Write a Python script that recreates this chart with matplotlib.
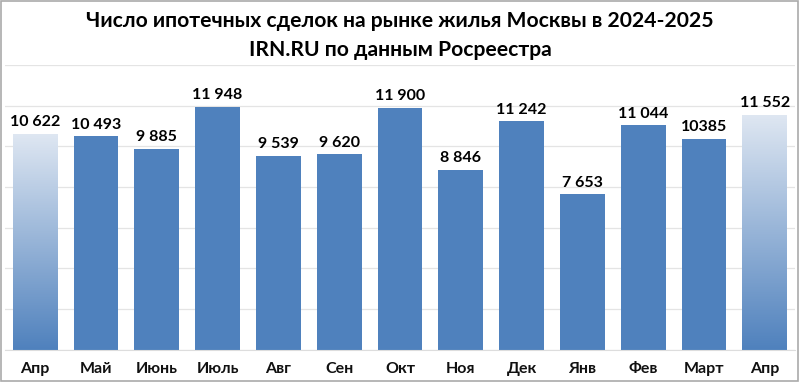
import numpy as np
import matplotlib
matplotlib.use("Agg")
import matplotlib.pyplot as plt
from matplotlib.colors import LinearSegmentedColormap
from matplotlib.patches import Rectangle

months = ['Апр', 'Май', 'Июнь', 'Июль', 'Авг', 'Сен', 'Окт', 'Ноя', 'Дек', 'Янв', 'Фев', 'Март', 'Апр']
deals = [10622, 10493, 9885, 11948, 9539, 9620, 11900, 8846, 11242, 7653, 11044, 10385, 11552]
labels = ['10 622', '10 493', '9 885', '11 948', '9 539', '9 620', '11 900', '8 846',
          '11 242', '7 653', '11 044', '10385', '11 552']
gradient_idx = [0, 12]

blue = '#4f81bd'
plt.rcParams['font.family'] = ['Lato', 'DejaVu Sans']

fig = plt.figure(figsize=(8, 3.82), dpi=100)
fig.patch.set_facecolor('white')
ax = fig.add_axes([0.006, 0.084, 0.988, 0.746])

x = np.arange(len(months))
bars = ax.bar(x, deals, width=0.74, color=blue, zorder=2)

# first and last bar: vertical gradient, pale top -> blue bottom
cmap = LinearSegmentedColormap.from_list('fade', [blue, '#dfe7f2'])
grad = np.linspace(0, 1, 256).reshape(-1, 1)
for i in gradient_idx:
    b = bars[i]
    b.set_facecolor('none')
    im = ax.imshow(grad, cmap=cmap, aspect='auto', origin='lower', zorder=2,
                   extent=[b.get_x(), b.get_x() + b.get_width(), 0, b.get_height()])
    im.set_clip_path(b)

for xi, v, lab in zip(x, deals, labels):
    ax.text(xi, v + 220, lab, ha='center', va='bottom', fontsize=11.5,
            fontweight='bold', color='#000000')

ax.set_xlim(-0.5, len(months) - 0.5)
ax.set_ylim(0, 14000)
ax.set_yticks(np.arange(0, 14001, 2000))
ax.yaxis.grid(True, color='#e4e4e4', linewidth=0.9, zorder=0)
ax.set_axisbelow(True)
ax.tick_params(axis='y', left=False, labelleft=False)
ax.tick_params(axis='x', length=0, pad=9)
ax.set_xticks(x)
ax.set_xticklabels(months, fontsize=11.5, fontweight='bold', color='#111111')
for s in ['top', 'left', 'right']:
    ax.spines[s].set_visible(False)
ax.spines['bottom'].set_color('#dddddd')

fig.text(0.5, 0.945, 'Число ипотечных сделок на рынке жилья Москвы в 2024-2025',
         ha='center', va='center', fontsize=15.2, fontweight='bold', color='#000000')
fig.text(0.5, 0.868, 'IRN.RU по данным Росреестра',
         ha='center', va='center', fontsize=15.2, fontweight='bold', color='#000000')

fig.add_artist(Rectangle((0.001, 0.002), 0.997, 0.995, transform=fig.transFigure,
                         fill=False, edgecolor='#aaaaaa', linewidth=1.2))

fig.savefig('out.png', dpi=100)
